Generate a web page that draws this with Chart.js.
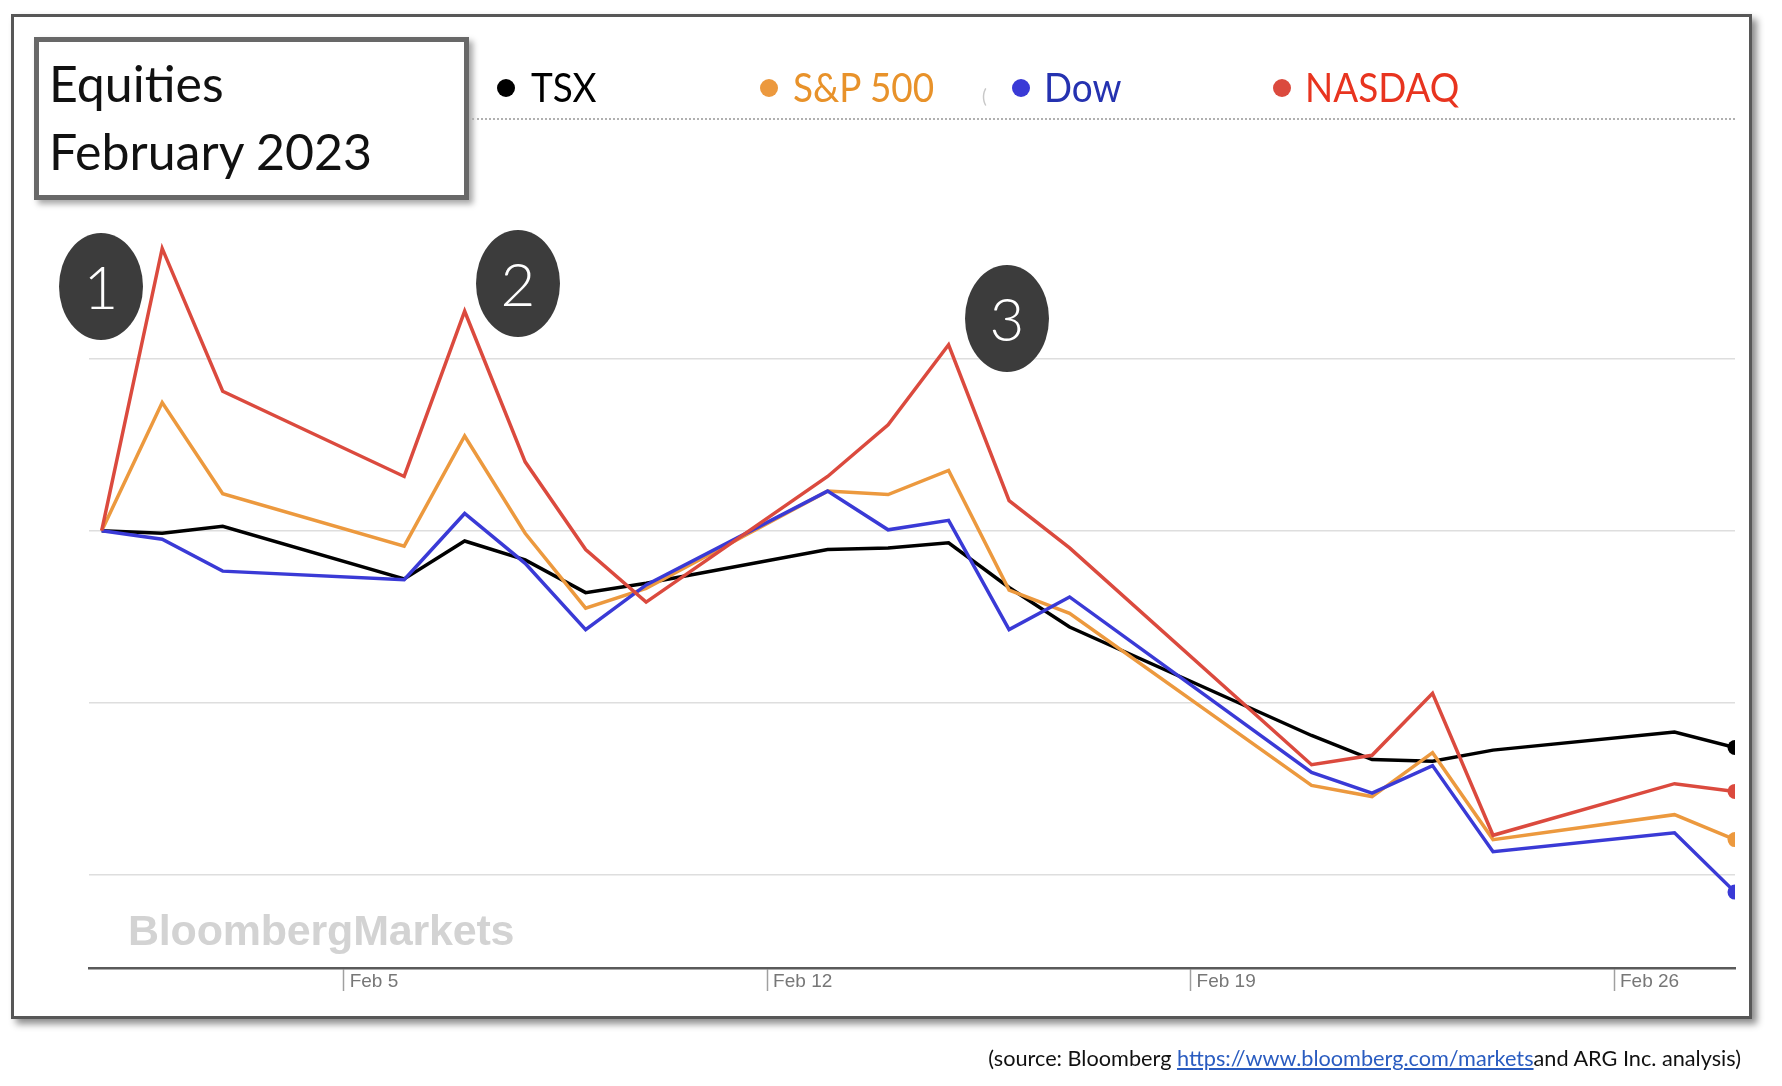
<!DOCTYPE html>
<html>
<head>
<meta charset="utf-8">
<script src="https://cdn.jsdelivr.net/npm/chart.js@4.4.1/dist/chart.umd.min.js"></script>
<style>
  body { margin: 0; background: #fff; font-family: Lato, "Noto Sans", sans-serif; }
  #page { position: relative; width: 1782px; height: 1086px; overflow: hidden; }
  #frame { position: absolute; left: 11px; top: 14px; width: 1741px; height: 1005px; box-sizing: border-box;
           border: 3px solid #575757; background: #fff; box-shadow: 5px 5px 7px rgba(0,0,0,0.45); }
  #chart { position: absolute; left: 0; top: 0; z-index: 1; }
  .over { position: absolute; z-index: 2; }
  #titleBox { left: 34px; top: 37px; width: 435px; height: 163px; box-sizing: border-box; border: 5px solid #686868;
              background: #fff; box-shadow: 4px 4px 6px rgba(0,0,0,0.35); padding: 7px 0 0 10px;
              font-size: 50px; line-height: 68px; color: #111; white-space: nowrap; }
  .dot { position: absolute; width: 18px; height: 18px; border-radius: 50%; }
  .lgText { position: absolute; font-size: 41px; line-height: 50px; white-space: nowrap;
            transform: scaleX(0.9); transform-origin: left center; }
  #sep { left: 472px; top: 118px; width: 1263px; border-top: 2px dotted #b0b0b0; }
  .badge { width: 84px; height: 107px; border-radius: 50%; background: #3c3c3c; color: #fff;
           font-size: 60px; font-weight: 300; line-height: 107px; text-align: center; }
  #mark { left: 128px; top: 906px; font-family: "Liberation Sans", Arial, sans-serif; font-weight: bold;
          font-size: 43px; letter-spacing: -0.2px; color: #d3d3d3; }
  #source { right: 41px; top: 1045px; font-size: 21.7px; color: #111; white-space: nowrap; }
  #source a { color: #2a5cc0; text-decoration: underline; }
</style>
</head>
<body>
<div id="page">
  <div id="frame"></div>
  <canvas id="chart" width="1782" height="1086"></canvas>
  <div id="titleBox" class="over">Equities<br>February 2023</div>
  <div id="legend" class="over" style="left:0;top:0;"></div>
  <div id="sep" class="over"></div>
  <div class="over badge" style="left:59px;top:233px;">1</div>
  <div class="over badge" style="left:476px;top:230px;">2</div>
  <div class="over badge" style="left:965px;top:265px;">3</div>
  <div id="mark" class="over">BloombergMarkets</div>
  <div id="source" class="over">(source: Bloomberg <a href="#">https://www.bloomberg.com/markets</a>and ARG Inc. analysis)</div>
</div>
<script>
// trading days in February 2023 (day of month)
const days = [1, 2, 3, 6, 7, 8, 9, 10, 13, 14, 15, 16, 17, 21, 22, 23, 24, 27, 28];

// % change from Feb 1
const tsx    = [0, -0.03, 0.05, -0.56, -0.12, -0.34, -0.72, -0.61, -0.22, -0.20, -0.14, -0.66, -1.12, -2.38, -2.66, -2.68, -2.55, -2.34, -2.52];
const sp500  = [0, 1.49, 0.43, -0.18, 1.10, -0.03, -0.90, -0.67, 0.46, 0.42, 0.70, -0.69, -0.96, -2.96, -3.09, -2.58, -3.59, -3.30, -3.59];
const dow    = [0, -0.10, -0.47, -0.57, 0.20, -0.38, -1.15, -0.63, 0.46, 0.01, 0.12, -1.15, -0.77, -2.81, -3.05, -2.73, -3.73, -3.51, -4.20];
const nasdaq = [0, 3.28, 1.62, 0.63, 2.55, 0.80, -0.22, -0.83, 0.63, 1.23, 2.16, 0.35, -0.20, -2.72, -2.61, -1.89, -3.54, -2.94, -3.03];

const seriesNames = ['TSX', 'S&P 500', 'Dow', 'NASDAQ'];
const tickDays = [5, 12, 19, 26];
const tickLabels = ['Feb 5', 'Feb 12', 'Feb 19', 'Feb 26'];
const gridValues = [-4, -2, 0, 2];

const lineColors = ['#000000', '#ec993e', '#3a3ad6', '#db4a3e'];
const textColors = ['#000000', '#e8922a', '#2532b0', '#e8341f'];
const legendDotX = [506, 769, 1021, 1282];
const legendTextX = [531, 793, 1044, 1305];

// legend
const legend = document.getElementById('legend');
seriesNames.forEach((name, i) => {
    const d = document.createElement('div');
    d.className = 'dot';
    d.style.left = (legendDotX[i] - 9) + 'px';
    d.style.top = (88 - 9) + 'px';
    d.style.background = lineColors[i];
    legend.appendChild(d);
    const t = document.createElement('div');
    t.className = 'lgText';
    t.style.left = legendTextX[i] + 'px';
    t.style.top = '62px';
    t.style.color = textColors[i];
    t.textContent = name;
    legend.appendChild(t);
});
const stray = document.createElement('div');
stray.className = 'lgText';
stray.style.cssText = 'left:982px;top:70px;font-size:20px;color:#c8c8c8;';
stray.textContent = '(';
legend.appendChild(stray);

function makeSet(label, values, i, order) {
    return {
        label: label,
        data: days.map((d, k) => ({ x: d, y: values[k] })),
        borderColor: lineColors[i],
        backgroundColor: lineColors[i],
        borderWidth: 3.5,
        tension: 0,
        pointRadius: days.map((d, k) => k === days.length - 1 ? 7.5 : 0),
        pointHoverRadius: 9,
        pointBorderWidth: 0,
        order: order
    };
}

const ctx = document.getElementById('chart');

const chart = new Chart(ctx, {
    type: 'line',
    data: {
        datasets: [
            makeSet(seriesNames[3], nasdaq, 3, 0),
            makeSet(seriesNames[2], dow, 2, 1),
            makeSet(seriesNames[1], sp500, 1, 2),
            makeSet(seriesNames[0], tsx, 0, 3)
        ]
    },
    options: {
        responsive: false,
        animation: false,
        events: [],
        layout: {
            padding: { left: 89, right: 47, top: 119, bottom: 68 }
        },
        plugins: {
            legend: { display: false },
            tooltip: { enabled: false }
        },
        scales: {
            x: {
                type: 'linear',
                min: 0.79,
                max: 28,
                afterBuildTicks: (s) => { s.ticks = tickDays.map(v => ({ value: v })); },
                afterFit: (s) => { s.height = 50; },
                grid: {
                    drawOnChartArea: false,
                    drawTicks: true,
                    tickLength: 23,
                    tickColor: '#a0a0a0',
                    tickWidth: 1.5
                },
                border: { color: '#5a5a5a', width: 2.5 },
                ticks: {
                    align: 'start',
                    labelOffset: 6,
                    padding: -21,
                    color: '#777777',
                    font: { family: 'Liberation Sans', size: 19 },
                    callback: (v) => {
                        const i = tickDays.indexOf(v);
                        return i >= 0 ? tickLabels[i] : '';
                    }
                }
            },
            y: {
                min: -5.082,
                max: 4.784,
                afterBuildTicks: (s) => { s.ticks = gridValues.map(v => ({ value: v })); },
                afterFit: (s) => { s.width = 0; },
                grid: {
                    color: '#dedede',
                    lineWidth: 1.5,
                    drawTicks: false
                },
                border: { display: false },
                ticks: { display: false }
            }
        }
    }
});
</script>
</body>
</html>
